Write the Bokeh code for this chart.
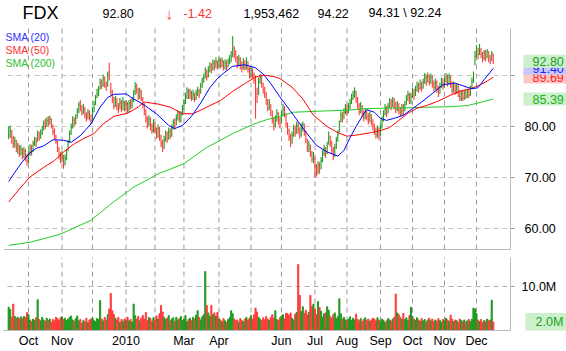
from bokeh.plotting import figure
from bokeh.models import FixedTicker, Label, Range1d
from bokeh.core.properties import value
from bokeh.embed import file_html
from bokeh.resources import INLINE

# ---------------- data ----------------
symbol = "FDX"
open_last = 94.22

close = [
    78.5, 79.2, 77.8, 76.6, 77.2, 75.6, 76.0, 74.8, 75.5, 74.3,
    75.2, 74.0, 73.2, 74.6, 75.8, 75.0, 76.6, 77.4, 76.8, 78.4,
    77.8, 78.6, 79.5, 80.6, 80.0, 81.2, 80.5, 81.4, 80.2, 79.0,
    78.2, 77.0, 75.8, 74.5, 73.6, 74.4, 72.6, 73.8, 75.0, 76.8,
    78.6, 79.8, 81.2, 80.6, 81.6, 82.8, 84.2, 83.6, 82.8, 83.6,
    82.2, 81.6, 82.8, 82.0, 81.2, 82.6, 84.4, 85.6, 86.4, 87.2,
    88.6, 88.0, 89.4, 88.2, 87.8, 90.4, 89.6, 86.8, 85.4, 84.0,
    85.2, 84.0, 83.2, 84.6, 83.6, 84.8, 83.8, 84.4, 83.4, 84.6,
    84.0, 85.0, 86.6, 87.8, 87.2, 86.0, 86.8, 85.6, 84.2, 83.0,
    81.6, 80.4, 81.4, 80.0, 79.2, 80.6, 79.4, 78.2, 79.6, 78.0,
    76.8, 75.8, 77.4, 78.6, 77.6, 79.0, 78.2, 79.6, 80.8, 80.0,
    81.6, 82.4, 81.6, 82.2, 83.4, 84.6, 85.8, 86.8, 86.0, 86.6,
    85.6, 86.2, 85.4, 86.4, 87.0, 86.2, 87.8, 88.8, 89.6, 90.6,
    89.8, 91.0, 91.8, 91.0, 92.4, 91.6, 92.6, 91.8, 92.8, 92.0,
    92.8, 91.6, 92.4, 91.8, 92.6, 93.2, 93.8, 95.2, 94.2, 93.4,
    92.2, 93.2, 92.0, 91.4, 92.6, 91.6, 92.6, 91.2, 90.0, 91.0,
    90.2, 89.0, 86.6, 85.8, 88.8, 89.6, 88.4, 87.2, 86.4, 85.0,
    83.8, 84.6, 82.8, 81.4, 80.2, 81.6, 82.6, 81.2, 80.4, 82.2,
    83.4, 82.6, 80.6, 79.2, 78.0, 77.0, 78.2, 79.6, 78.8, 80.2,
    79.4, 78.4, 79.6, 80.4, 79.0, 77.4, 75.8, 76.4, 74.8, 73.6,
    74.2, 72.0, 71.2, 72.4, 71.6, 73.2, 74.6, 75.6, 74.6, 76.2,
    77.8, 76.8, 75.4, 74.4, 75.8, 77.2, 78.4, 80.4, 82.2, 81.4,
    82.8, 83.6, 82.8, 83.8, 84.6, 85.6, 86.2, 86.8, 85.4, 84.2,
    83.0, 84.0, 82.6, 81.8, 82.8, 82.0, 81.2, 82.2, 81.0, 80.0,
    79.2, 78.4, 79.4, 78.2, 79.8, 81.2, 82.4, 83.4, 82.6, 83.8,
    84.8, 84.0, 85.0, 84.2, 83.4, 84.4, 83.2, 82.6, 83.8, 83.0,
    84.2, 85.4, 86.2, 85.0, 85.8, 86.8, 86.0, 87.2, 88.0, 87.4,
    88.4, 87.6, 88.6, 89.6, 88.8, 89.8, 88.8, 89.6, 88.4, 87.6,
    88.6, 87.4, 86.6, 87.8, 88.8, 88.0, 88.8, 89.8, 88.6, 89.6,
    88.4, 87.2, 88.0, 87.0, 87.8, 86.6, 85.8, 86.4, 85.6, 86.6,
    86.0, 86.8, 86.2, 87.4, 88.8, 90.2, 93.8, 94.8, 94.0, 95.0,
    94.2, 93.4, 94.4, 93.6, 94.6, 93.4, 92.6, 94.22, 92.80,
]

high = [
    80.0, 80.2, 79.3, 78.2, 78.0, 77.4, 76.8, 76.4, 76.3, 75.8,
    76.0, 75.6, 74.6, 75.2, 76.5, 76.4, 77.2, 78.0, 77.9, 79.2,
    79.0, 79.4, 80.2, 81.2, 81.5, 81.8, 82.0, 82.1, 81.6, 80.4,
    79.6, 78.4, 77.2, 76.0, 75.0, 75.2, 74.4, 74.5, 75.6, 77.4,
    79.2, 80.6, 82.0, 81.8, 82.4, 83.6, 84.8, 85.2, 84.2, 84.4,
    83.8, 82.8, 83.4, 83.2, 82.4, 83.8, 85.0, 86.2, 87.4, 87.9,
    89.4, 89.2, 90.2, 89.8, 88.8, 90.8, 92.5, 88.6, 87.2, 85.8,
    86.0, 85.6, 84.6, 85.6, 85.2, 85.8, 85.0, 85.2, 84.8, 85.2,
    85.4, 85.8, 87.2, 88.7, 88.4, 87.6, 87.6, 87.2, 85.8, 84.6,
    83.4, 82.0, 82.2, 81.8, 80.6, 81.4, 80.8, 79.8, 80.4, 80.0,
    78.4, 77.4, 78.2, 79.2, 79.0, 79.8, 79.6, 80.4, 81.4, 81.6,
    82.4, 83.2, 83.0, 83.0, 84.2, 85.4, 86.6, 87.7, 87.4, 87.4,
    87.0, 87.2, 86.6, 87.2, 87.8, 87.4, 88.6, 89.6, 90.4, 91.6,
    91.2, 91.8, 92.6, 92.4, 93.2, 93.0, 93.6, 93.0, 93.6, 93.4,
    93.6, 93.0, 93.2, 93.0, 93.4, 94.0, 94.8, 97.7, 95.8, 95.0,
    93.8, 94.0, 93.6, 92.8, 93.4, 93.0, 93.6, 92.8, 91.6, 91.8,
    91.4, 90.6, 90.0, 87.6, 89.6, 90.3, 90.0, 88.6, 87.8, 86.8,
    85.4, 85.4, 84.4, 83.2, 81.8, 82.2, 83.4, 82.8, 81.8, 83.0,
    84.4, 84.0, 82.6, 80.8, 79.6, 78.6, 79.0, 80.4, 80.2, 81.0,
    80.8, 79.8, 80.6, 81.0, 80.6, 79.2, 77.6, 77.2, 76.4, 75.2,
    75.0, 74.0, 72.6, 73.2, 73.0, 74.0, 75.4, 76.4, 76.0, 77.0,
    79.0, 78.2, 77.2, 76.0, 76.6, 78.0, 79.2, 81.2, 83.0, 82.8,
    83.6, 84.4, 84.2, 84.6, 85.4, 86.4, 87.0, 87.7, 87.0, 85.8,
    84.6, 84.8, 84.2, 83.2, 83.6, 83.2, 82.6, 83.0, 82.4, 81.4,
    80.6, 79.8, 80.2, 79.8, 80.6, 82.0, 83.2, 84.4, 84.0, 84.6,
    85.6, 85.4, 85.8, 85.6, 84.8, 85.0, 84.6, 83.8, 84.4, 84.4,
    85.0, 86.2, 87.0, 86.6, 86.6, 87.6, 87.4, 88.0, 88.8, 88.6,
    89.2, 88.8, 89.4, 90.5, 90.2, 90.6, 90.2, 90.4, 90.0, 89.0,
    89.4, 89.0, 88.0, 88.6, 89.6, 89.4, 89.6, 90.5, 90.2, 90.4,
    90.0, 88.8, 88.8, 88.4, 88.4, 88.2, 87.2, 87.0, 87.0, 87.2,
    87.2, 87.4, 87.4, 88.0, 89.6, 90.8, 94.8, 96.0, 95.4, 96.2,
    95.4, 94.6, 95.0, 95.0, 95.2, 94.8, 94.0, 94.8, 94.31,
]

low = [
    77.5, 77.8, 76.6, 75.8, 75.9, 75.0, 74.6, 74.0, 74.3, 73.6,
    73.8, 73.2, 72.3, 72.8, 74.2, 74.3, 75.0, 76.2, 76.0, 77.0,
    77.2, 77.6, 78.4, 79.2, 79.5, 80.0, 80.0, 80.4, 79.6, 78.4,
    77.5, 76.6, 75.0, 73.6, 72.8, 73.0, 71.7, 72.4, 73.4, 75.2,
    76.8, 78.4, 79.6, 80.0, 80.4, 81.6, 82.6, 83.0, 82.2, 82.4,
    81.6, 81.0, 81.4, 81.2, 80.5, 81.0, 82.8, 84.2, 85.6, 86.0,
    87.2, 87.4, 87.8, 87.6, 87.0, 87.8, 89.0, 86.2, 84.6, 83.4,
    83.8, 83.2, 82.6, 83.4, 82.8, 83.2, 83.0, 83.2, 82.6, 82.8,
    83.4, 83.6, 84.8, 86.2, 86.4, 85.2, 85.4, 85.0, 83.6, 82.2,
    80.8, 79.6, 80.0, 79.2, 78.6, 78.8, 78.6, 77.6, 77.8, 77.2,
    76.0, 75.0, 75.6, 77.0, 76.8, 77.4, 77.6, 78.0, 79.4, 79.4,
    80.2, 81.2, 80.8, 80.8, 82.2, 83.2, 84.4, 85.4, 85.4, 85.4,
    85.0, 85.2, 84.8, 85.2, 86.0, 85.6, 86.4, 87.6, 88.6, 89.4,
    89.0, 89.6, 90.6, 90.4, 91.0, 91.0, 91.4, 91.2, 91.6, 91.4,
    91.6, 91.0, 91.2, 91.0, 91.6, 92.2, 92.6, 93.6, 93.4, 92.6,
    91.4, 91.8, 91.2, 90.6, 91.2, 91.0, 91.2, 90.6, 89.4, 89.6,
    89.4, 88.4, 81.5, 84.6, 86.2, 88.4, 87.6, 86.4, 85.6, 84.2,
    83.0, 83.2, 82.0, 80.6, 79.2, 79.8, 81.0, 80.4, 79.6, 80.6,
    82.0, 81.8, 79.8, 78.4, 77.2, 76.0, 76.6, 78.0, 78.0, 78.6,
    78.6, 77.6, 78.0, 79.0, 78.2, 76.8, 75.0, 75.0, 74.0, 73.0,
    72.8, 70.0, 70.2, 70.6, 70.8, 71.6, 73.0, 74.2, 73.8, 74.6,
    76.4, 76.0, 74.6, 73.4, 74.0, 75.6, 77.0, 78.8, 80.8, 80.8,
    81.4, 82.4, 82.0, 82.6, 83.4, 84.4, 85.2, 85.6, 84.6, 83.4,
    82.2, 82.6, 81.8, 81.0, 81.4, 81.2, 80.4, 80.8, 80.2, 79.2,
    78.4, 77.6, 77.8, 77.3, 78.2, 79.6, 81.0, 82.2, 81.8, 82.6,
    83.6, 83.2, 83.8, 83.4, 82.6, 83.0, 82.4, 82.0, 82.2, 82.2,
    83.0, 84.2, 85.0, 84.4, 84.4, 85.6, 85.2, 86.0, 86.8, 86.6,
    87.2, 86.8, 87.4, 88.4, 88.0, 88.6, 88.0, 88.4, 87.6, 86.8,
    87.2, 86.6, 85.8, 86.4, 87.6, 87.2, 87.6, 88.6, 87.8, 88.2,
    87.6, 86.4, 86.6, 86.2, 86.4, 85.8, 85.0, 85.0, 85.0, 85.2,
    85.4, 85.6, 85.6, 86.0, 87.4, 88.6, 92.0, 93.6, 93.2, 94.0,
    93.4, 92.6, 93.0, 92.8, 93.4, 92.6, 92.2, 92.8, 92.24,
]

# volume in millions of shares
volume = [
    5.3, 4.8, 3.0, 6.0, 3.2, 2.8, 3.0, 2.6, 3.1, 2.7,
    3.2, 2.9, 4.1, 3.6, 2.4, 2.0, 2.6, 2.3, 2.9, 7.0,
    2.5, 2.2, 3.0, 2.4, 2.1, 2.8, 2.3, 2.6, 1.9, 2.5,
    2.2, 3.0, 2.7, 2.4, 2.9, 3.1, 2.5, 2.8, 2.2, 2.6,
    3.0, 3.3, 2.4, 2.1, 2.7, 3.3, 2.2, 2.5, 1.6, 2.3,
    2.0, 2.8, 1.8, 2.4, 2.6, 2.9, 2.3, 2.0, 2.7, 2.5,
    6.8, 2.6, 2.2, 3.0, 2.4, 3.6, 4.9, 8.4, 4.5, 3.7,
    2.8, 2.4, 3.0, 1.8, 2.5, 2.1, 2.6, 2.3, 3.0, 2.2,
    2.5, 1.9, 6.0, 3.4, 2.6, 3.2, 2.2, 2.8, 3.4, 2.6,
    4.1, 2.3, 3.0, 2.7, 2.1, 2.9, 2.4, 3.3, 2.6, 3.8,
    5.7, 4.2, 3.0, 2.5, 2.8, 3.4, 2.2, 2.6, 2.9, 2.1,
    3.0, 2.4, 2.7, 3.2, 2.3, 2.6, 3.4, 2.0, 2.5, 2.8,
    2.2, 3.0, 2.6, 3.5, 4.5, 3.0, 2.4, 3.1, 3.6, 13.4,
    5.7, 4.0, 3.2, 5.7, 3.6, 4.0, 3.3, 4.1, 2.6, 2.4,
    2.0, 2.7, 2.2, 1.8, 2.5, 2.9, 4.5, 3.8, 2.6, 2.2,
    2.4, 1.9, 2.7, 2.3, 2.0, 2.6, 3.0, 2.4, 2.8, 3.4,
    2.6, 3.6, 5.1, 4.2, 3.0, 2.6, 2.2, 2.9, 2.4, 3.2,
    2.6, 2.3, 3.0, 3.6, 2.8, 4.5, 2.5, 2.2, 2.9, 3.3,
    3.6, 2.6, 3.9, 3.8, 3.4, 4.0, 2.8, 2.4, 3.7, 4.1,
    15.0, 8.0, 4.3, 5.4, 3.9, 4.6, 3.5, 4.2, 8.0, 5.5,
    6.0, 4.8, 3.6, 6.6, 5.2, 4.4, 3.0, 3.8, 4.0, 5.4,
    4.6, 3.2, 2.8, 3.6, 4.0, 2.7, 3.2, 7.2, 3.8, 2.6,
    3.0, 2.4, 2.2, 2.6, 3.1, 2.3, 2.8, 2.4, 3.7, 2.5,
    2.2, 2.7, 2.0, 2.5, 2.9, 2.3, 2.6, 2.1, 2.4, 2.8,
    2.6, 2.2, 2.9, 2.4, 2.0, 2.6, 2.3, 1.8, 2.2, 2.7,
    2.4, 2.1, 2.6, 3.0, 8.3, 4.0, 3.6, 3.0, 2.6, 3.9,
    2.5, 2.9, 2.3, 3.4, 5.3, 3.2, 2.6, 2.3, 2.9, 2.4,
    2.1, 2.7, 2.2, 2.5, 1.9, 2.4, 2.8, 2.2, 2.6, 2.0,
    2.4, 2.1, 2.7, 2.3, 1.9, 2.5, 2.2, 2.8, 2.4, 2.1,
    3.5, 2.6, 2.0, 2.4, 2.2, 1.8, 2.6, 2.3, 2.0, 2.4,
    1.9, 2.2, 2.5, 2.0, 2.6, 5.1, 4.9, 3.8, 2.4, 2.0,
    2.5, 1.8, 2.3, 2.0, 2.6, 2.2, 2.4, 6.9, 1.953462,
]

sma20_idx = [0, 4, 8, 13, 18, 23, 29, 36, 41, 47, 54, 60, 65, 69, 77, 82, 88, 97, 105, 109,
             114, 120, 126, 132, 137, 142, 147, 155, 162, 167, 172, 178, 187, 195, 202, 209, 216, 220, 224, 228,
             232, 235, 240, 244, 248, 254, 259, 265, 271, 279, 285, 293, 298, 304, 308, 312, 315, 318]
sma20 = [69.2, 71.0, 72.7, 74.6, 75.7, 76.2, 77.4, 77.3, 76.9, 78.2, 80.5, 83.8, 85.7, 86.3, 86.4, 85.4, 84.4, 82.5, 80.2, 79.6,
         80.2, 82.0, 84.6, 87.6, 89.4, 90.7, 91.8, 92.1, 91.5, 90.3, 88.4, 85.8, 82.2, 78.9, 76.3, 75.0, 74.2, 75.3, 77.8, 80.0,
         82.0, 83.3, 82.8, 81.6, 81.2, 81.7, 82.2, 83.5, 84.8, 86.7, 88.2, 88.5, 88.0, 87.4, 87.6, 89.2, 90.3, 91.4]

sma50_idx = [0, 8, 14, 23, 30, 36, 43, 49, 56, 62, 69, 78, 85, 89, 98, 106, 114, 121, 130, 139,
             147, 156, 162, 167, 174, 178, 186, 193, 200, 209, 216, 222, 230, 238, 244, 250, 256, 262, 268, 275,
             282, 289, 296, 303, 309, 314, 318]
sma50 = [65.2, 68.1, 70.1, 72.0, 73.3, 75.0, 76.6, 77.6, 78.6, 80.5, 82.0, 82.6, 83.8, 84.8, 84.4, 83.8, 82.5, 82.5, 83.8, 85.1,
         86.9, 88.6, 89.7, 90.1, 89.8, 89.4, 87.7, 85.4, 82.2, 80.0, 78.8, 78.1, 78.4, 78.8, 79.2, 79.8, 81.2, 82.6, 83.6, 84.2,
         85.0, 86.0, 86.9, 87.4, 88.1, 88.9, 89.69]

sma200_idx = [0, 14, 34, 54, 67, 82, 98, 115, 130, 147, 161, 170, 178, 187, 203, 223, 234, 249, 265, 279,
              291, 301, 308, 318]
sma200 = [56.7, 57.3, 58.9, 61.6, 64.8, 68.1, 70.7, 72.7, 75.9, 78.6, 80.5, 81.4, 82.0, 82.8, 83.0, 83.2, 83.5, 83.6, 83.7, 83.8,
          83.9, 84.1, 84.6, 85.39]

month_ticks = [13, 35, 55, 77, 96, 115, 138, 159, 179, 201, 222, 244, 265, 286, 307]
month_labels = ["Oct", "Nov", "", "2010", "", "Mar", "Apr", "", "Jun", "Jul", "Aug", "Sep", "Oct", "Nov", "Dec"]
price_ticks = [60, 70, 80, 90]
price_tick_labels = ["60.00", "70.00", "80.00", ""]
vol_ticks = [10]
vol_tick_labels = ["10.0M"]

assert len(close) == len(high) == len(low) == len(volume), (len(close), len(high), len(low), len(volume))

# ---------------- layout constants (pixels of the 566x351 page) ----------------
FONT = "Liberation Sans"
UP, DOWN = "#1f9a1f", "#ff3b3b"
N = len(close)
idx = list(range(N))
colors = [UP if i == 0 or close[i] >= close[i - 1] else DOWN for i in idx]

W, H = 566, 351
B_L, B_B = 3, 21                 # left border, bottom border (x-axis)
FRAME_H = H - B_B                # frame spans pixel rows 0..330
PX_DAY = 1.5238                  # pixels per trading day
X_START = -(8.19 - B_L) / PX_DAY
X_END = X_START + (W - B_L) / PX_DAY
PX_PER_DOLLAR = 5.1
Y_AT_80 = 126.0
Y_HI = 80 + Y_AT_80 / PX_PER_DOLLAR
Y_LO = 80 - (FRAME_H - Y_AT_80) / PX_PER_DOLLAR
PX_PER_MILLION = 4.4
V_HI = FRAME_H / PX_PER_MILLION


def XP(px):
    return X_START + (px - B_L) / PX_DAY


def YP(py):
    return Y_HI - py / PX_PER_DOLLAR


def VP(py):
    return V_HI - py / PX_PER_MILLION


PRICE_TOP, PRICE_BOT = YP(28), YP(249)
VOL_TOP = VP(257)
RIGHT_EDGE = XP(510)

p = figure(width=W, height=H, x_range=Range1d(X_START, X_END), y_range=Range1d(Y_LO, Y_HI),
           output_backend="svg", toolbar_location=None, y_axis_location=None, title=None,
           min_border_left=B_L, min_border_right=0, min_border_top=0, min_border_bottom=B_B)
p.extra_y_ranges = {"vol": Range1d(0, V_HI)}
p.outline_line_color = None
p.background_fill_color = "white"
p.border_fill_color = "white"
p.grid.visible = False

xa = p.xaxis[0]
xa.ticker = FixedTicker(ticks=month_ticks)
xa.major_label_overrides = {t: s for t, s in zip(month_ticks, month_labels)}
xa.bounds = (XP(3), RIGHT_EDGE)
xa.major_label_text_font = FONT
xa.major_label_text_font_size = "12.5px"
xa.major_label_text_color = "#000000"
xa.major_label_standoff = 3
xa.major_tick_out = 0
xa.major_tick_in = 0
xa.minor_tick_out = 0
xa.minor_tick_in = 0
xa.axis_line_color = "#bbbbbb"

GRID_V = "#9a9a9a"
GRID_H = "#c4c4c4"
nm = len(month_ticks)
# vertical month grid lines in both panels
p.segment(x0=month_ticks, y0=[PRICE_BOT] * nm, x1=month_ticks, y1=[PRICE_TOP] * nm,
          line_color=GRID_V, line_dash="5 4", line_width=1)
p.segment(x0=month_ticks, y0=[0] * nm, x1=month_ticks, y1=[VOL_TOP] * nm,
          line_color=GRID_V, line_dash="5 4", line_width=1, y_range_name="vol")
# horizontal price grid lines + ticks
npt = len(price_ticks)
p.segment(x0=[XP(7)] * npt, y0=price_ticks, x1=[RIGHT_EDGE] * npt, y1=price_ticks,
          line_color=GRID_H, line_dash="5 4", line_width=1)
p.segment(x0=[RIGHT_EDGE] * npt, y0=price_ticks, x1=[XP(514)] * npt, y1=price_ticks,
          line_color="#999999", line_width=1)
nvt = len(vol_ticks)
p.segment(x0=[XP(7)] * nvt, y0=vol_ticks, x1=[RIGHT_EDGE] * nvt, y1=vol_ticks,
          line_color="#b0b0b0", line_dash="5 4", line_width=1, y_range_name="vol")
p.segment(x0=[RIGHT_EDGE] * nvt, y0=vol_ticks, x1=[XP(514)] * nvt, y1=vol_ticks,
          line_color="#999999", line_width=1, y_range_name="vol")
# panel borders
p.segment(x0=[RIGHT_EDGE], y0=[PRICE_BOT], x1=[RIGHT_EDGE], y1=[PRICE_TOP], line_color="#bbbbbb", line_width=1)
p.segment(x0=[XP(3)], y0=[PRICE_BOT], x1=[RIGHT_EDGE], y1=[PRICE_BOT], line_color="#bbbbbb", line_width=1)
p.segment(x0=[RIGHT_EDGE], y0=[0], x1=[RIGHT_EDGE], y1=[VOL_TOP], line_color="#bbbbbb", line_width=1,
          y_range_name="vol")

# price bars and moving averages
p.segment(x0=idx, y0=low, x1=idx, y1=high, line_color=colors, line_width=1.1)
p.segment(x0=idx, y0=close, x1=[i + 0.5 for i in idx], y1=close, line_color=colors, line_width=1)
p.line(sma200_idx, sma200, line_color="#22cc22", line_width=1)
p.line(sma50_idx, sma50, line_color="#ff0000", line_width=1)
p.line(sma20_idx, sma20, line_color="#0000ff", line_width=1)

# volume bars
p.vbar(x=idx, top=volume, width=0.7, color=colors, y_range_name="vol")

# right-hand tick labels
lab_t = [t for t, s in zip(price_ticks, price_tick_labels) if s]
lab_s = [s for s in price_tick_labels if s]
p.text(x=[XP(524)] * len(lab_t), y=lab_t, text=lab_s, text_font=value(FONT), text_font_size="12.5px",
       text_color="#000000", text_baseline="middle", text_align="left")
p.text(x=[XP(521)] * nvt, y=vol_ticks, text=vol_tick_labels, text_font=value(FONT), text_font_size="12.5px",
       text_color="#000000", text_baseline="middle", text_align="left", y_range_name="vol")

# header
hy = YP(12.5)
change = close[-1] - close[-2]
header = [
    (symbol, 22, "18px", "#000000"),
    (f"{close[-1]:.2f}", 102, "12.5px", "#000000"),
    ("\u2193", 165, "15px", "#ff3333"),
    (f"{change:.2f}", 183, "12.5px", "#ff3333"),
    (f"{int(round(volume[-1] * 1e6)):,}", 243, "12.5px", "#000000"),
    (f"{open_last:.2f}", 317, "12.5px", "#000000"),
    (f"{high[-1]:.2f} \\ {low[-1]:.2f}", 368, "12.5px", "#000000"),
]
for txt, px, fs, col in header:
    p.add_layout(Label(x=XP(px), y=hy, text=txt, text_font=FONT, text_font_size=fs,
                       text_color=col, text_baseline="middle", text_align="left"))

# legend texts
for txt, py, col in [("SMA (20)", 36.5, "#3030ff"), ("SMA (50)", 49.5, "#ff3030"), ("SMA (200)", 62.5, "#30c030")]:
    p.add_layout(Label(x=XP(5), y=YP(py), text=txt, text_font=FONT, text_font_size="10.5px",
                       text_color=col, text_baseline="middle", text_align="left"))

# value tags on the right (padding given as (horizontal, vertical))
tags = [
    (sma50[-1], "#ff2020", "#ffc8c8"),
    (sma20[-1], "#2020ff", "#c8c8ff"),
    (close[-1], "#22a022", "#ccf0cc"),
    (sma200[-1], "#22b022", "#ccf0cc"),
]
for val, tc, bg in tags:
    p.add_layout(Label(x=XP(523), y=val, text=f"{val:.2f}", text_font=FONT, text_font_size="12.5px",
                       text_color=tc, text_baseline="middle", text_align="left",
                       background_fill_color=bg, border_line_color=None, padding=(9, 2)))

p.add_layout(Label(x=XP(525), y=volume[-1], y_range_name="vol", text=f"{volume[-1]:.1f}M", text_font=FONT,
                   text_font_size="12.5px", text_color="#22a022", text_baseline="middle", text_align="left",
                   background_fill_color="#ccf0cc", border_line_color=None, padding=(10, 2)))

open("out.html", "w").write(file_html(p, INLINE))
